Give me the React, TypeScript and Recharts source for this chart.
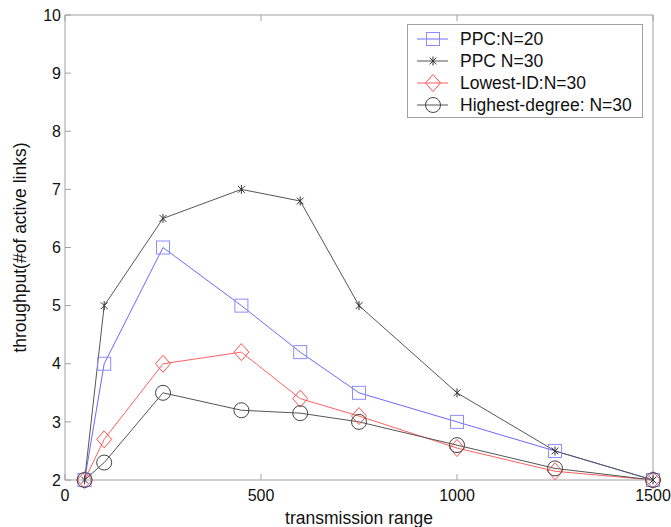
import { Legend, Line, LineChart, XAxis, YAxis } from "recharts";

const RANGES = [50, 100, 250, 450, 600, 750, 1000, 1250, 1500];
const PPC_N20 = [2, 4, 6, 5, 4.2, 3.5, 3, 2.5, 2];
const PPC_N30 = [2, 5, 6.5, 7, 6.8, 5, 3.5, 2.5, 2];
const LOWEST_ID = [2, 2.7, 4, 4.2, 3.4, 3.1, 2.55, 2.15, 2];
const HIGHEST_DEG = [2, 2.3, 3.5, 3.2, 3.15, 3.0, 2.6, 2.2, 2];
const X_TICKS = [0, 500, 1000, 1500];
const Y_TICKS = [2, 3, 4, 5, 6, 7, 8, 9, 10];

const FONT = "'Liberation Sans', Arial, Helvetica, sans-serif";
const AXIS = "#a0a0a0";

const data = RANGES.map((r, i) => ({
  range: r,
  ppc20: PPC_N20[i],
  ppc30: PPC_N30[i],
  lowest: LOWEST_ID[i],
  highest: HIGHEST_DEG[i],
}));

type MarkerKind = "square" | "star" | "diamond" | "circle";

function Marker({ kind, cx, cy, color }: { kind: MarkerKind; cx: number; cy: number; color: string }) {
  if (kind === "square") {
    return <rect x={cx - 6.5} y={cy - 6.5} width={13} height={13} fill="none" stroke={color} strokeWidth={1} />;
  }
  if (kind === "diamond") {
    return (
      <polygon
        points={`${cx},${cy - 8.5} ${cx + 7.5},${cy} ${cx},${cy + 8.5} ${cx - 7.5},${cy}`}
        fill="none"
        stroke={color}
        strokeWidth={1}
      />
    );
  }
  if (kind === "circle") {
    return <circle cx={cx} cy={cy} r={7.5} fill="none" stroke={color} strokeWidth={1} />;
  }
  const r = 4.5;
  const d = r * 0.75;
  return (
    <g stroke={color} strokeWidth={1}>
      <line x1={cx} y1={cy - r} x2={cx} y2={cy + r} />
      <line x1={cx - d} y1={cy - d} x2={cx + d} y2={cy + d} />
      <line x1={cx - d} y1={cy + d} x2={cx + d} y2={cy - d} />
    </g>
  );
}

const SERIES: { key: string; name: string; line: string; mark: string; kind: MarkerKind }[] = [
  { key: "ppc20", name: "PPC:N=20", line: "#6a6aff", mark: "#8c8cff", kind: "square" },
  { key: "ppc30", name: "PPC N=30", line: "#555555", mark: "#333333", kind: "star" },
  { key: "lowest", name: "Lowest-ID:N=30", line: "#ff6060", mark: "#ff5050", kind: "diamond" },
  { key: "highest", name: "Highest-degree: N=30", line: "#555555", mark: "#444444", kind: "circle" },
];

function LegendBox() {
  return (
    <div
      style={{
        border: `1px solid ${AXIS}`,
        background: "#fff",
        boxSizing: "border-box",
        width: 236,
        height: 94,
        padding: "3px 0 0 0",
        fontFamily: FONT,
        fontSize: 17.5,
        color: "#111",
      }}
    >
      {SERIES.map((s) => (
        <div key={s.key} style={{ display: "flex", alignItems: "center", height: 22, whiteSpace: "nowrap" }}>
          <svg width={52} height={20} style={{ flex: "none" }}>
            <line x1={9} y1={10} x2={40} y2={10} stroke={s.line} strokeWidth={1} />
            <Marker kind={s.kind} cx={25} cy={10} color={s.mark} />
          </svg>
          <span>{s.name}</span>
        </div>
      ))}
    </div>
  );
}

export default function App() {
  return (
    <div style={{ position: "absolute", left: 0, top: 0, width: 671, height: 527, background: "#fff", fontFamily: FONT }}>
      <LineChart width={671} height={527} data={data} margin={{ top: 5, right: 0, bottom: 0, left: 0 }}>
        <XAxis
          xAxisId="bottom"
          dataKey="range"
          type="number"
          domain={[0, 1500]}
          ticks={X_TICKS}
          height={47}
          stroke={AXIS}
          tickSize={-6}
          tickMargin={16}
          tick={{ fill: "#111", fontSize: 16, fontFamily: FONT }}
          label={{ value: "transmission range", position: "insideBottom", offset: 3, fill: "#111", fontSize: 17.5, fontFamily: FONT }}
        />
        <XAxis
          xAxisId="top"
          orientation="top"
          dataKey="range"
          type="number"
          domain={[0, 1500]}
          ticks={X_TICKS}
          height={10}
          stroke={AXIS}
          tickSize={-6}
          tickFormatter={() => ""}
        />
        <YAxis
          yAxisId="left"
          type="number"
          domain={[2, 10]}
          ticks={Y_TICKS}
          width={65}
          stroke={AXIS}
          tickSize={-6}
          tickMargin={10}
          tick={{ fill: "#111", fontSize: 16, fontFamily: FONT }}
          label={{
            value: "throughput(#of active links)",
            angle: -90,
            position: "insideLeft",
            offset: 20,
            style: { textAnchor: "middle" },
            fill: "#111",
            fontSize: 17.5,
            fontFamily: FONT,
          }}
        />
        <YAxis
          yAxisId="right"
          orientation="right"
          type="number"
          domain={[2, 10]}
          ticks={Y_TICKS}
          width={18}
          stroke={AXIS}
          tickSize={-6}
          tickFormatter={() => ""}
        />
        <Legend
          layout="horizontal"
          align="center"
          verticalAlign="middle"
          wrapperStyle={{ position: "absolute", left: 407, top: 24, width: 236 }}
          content={() => <LegendBox />}
        />
        {SERIES.map((s) => (
          <Line
            key={s.key}
            xAxisId="bottom"
            yAxisId="left"
            dataKey={s.key}
            name={s.name}
            type="linear"
            stroke={s.line}
            strokeWidth={1}
            isAnimationActive={false}
            activeDot={false}
            dot={(p: any) => <Marker key={`${s.key}-${p.index}`} kind={s.kind} cx={p.cx} cy={p.cy} color={s.mark} />}
          />
        ))}
      </LineChart>
    </div>
  );
}
